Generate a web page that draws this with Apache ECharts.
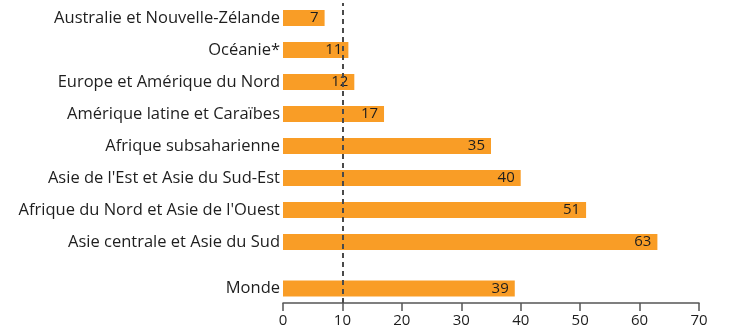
<!DOCTYPE html>
<html>
<head>
<meta charset="utf-8">
<script src="https://cdn.jsdelivr.net/npm/echarts@6/dist/echarts.min.js"></script>
<style>
  html, body { margin: 0; padding: 0; background: #fff; }
  #chart { width: 753px; height: 335px; }
</style>
</head>
<body>
<div id="chart"></div>
<script>
// Regional shares (%), top to bottom
const regions = [
  "Australie et Nouvelle-Zélande",
  "Océanie*",
  "Europe et Amérique du Nord",
  "Amérique latine et Caraïbes",
  "Afrique subsaharienne",
  "Asie de l'Est et Asie du Sud-Est",
  "Afrique du Nord et Asie de l'Ouest",
  "Asie centrale et Asie du Sud"
];
const regionValues = [7, 11, 12, 17, 35, 40, 51, 63];

const worldLabel = ["Monde"];
const worldValues = [39];

const referenceValue = [10];
const axisTicks = [0, 10, 20, 30, 40, 50, 60, 70];

const FONT = "'Open Sans', 'Noto Sans', sans-serif";
const BAR = "#F99D26";
const TEXT = "#1e1e1e";
const GRID_LEFT = 283, GRID_RIGHT = 54;

const valueLabel = {
  show: true,
  position: "insideRight",
  distance: 6,
  color: TEXT,
  fontFamily: FONT,
  fontSize: 15
};

const categoryLabel = { color: TEXT, fontFamily: FONT, fontSize: 16.5, margin: 3 };

const chart = echarts.init(document.getElementById("chart"), null, { renderer: "canvas" });

const xBase = {
  type: "value",
  min: axisTicks[0],
  max: axisTicks[axisTicks.length - 1],
  interval: axisTicks[1] - axisTicks[0],
  splitLine: { show: false }
};

chart.setOption({
  animation: false,
  grid: [
    { left: GRID_LEFT, right: GRID_RIGHT, top: 2, height: 256 },
    { left: GRID_LEFT, right: GRID_RIGHT, top: 274, height: 29 },
    { left: GRID_LEFT, right: GRID_RIGHT, top: 3, height: 300 }
  ],
  xAxis: [
    Object.assign({}, xBase, { gridIndex: 0, show: false }),
    Object.assign({}, xBase, {
      gridIndex: 1,
      position: "bottom",
      axisLine: { show: true, lineStyle: { color: "#555", width: 1.5 } },
      axisTick: { show: true, inside: false, length: 8, lineStyle: { color: "#555", width: 1.5 } },
      axisLabel: { color: TEXT, fontFamily: FONT, fontSize: 15, margin: 10 }
    }),
    Object.assign({}, xBase, { gridIndex: 2, show: false })
  ],
  yAxis: [
    {
      gridIndex: 0,
      type: "category",
      inverse: true,
      data: regions,
      axisLine: { show: false },
      axisTick: { show: false },
      axisLabel: categoryLabel
    },
    {
      gridIndex: 1,
      type: "category",
      inverse: true,
      data: worldLabel,
      axisLine: { show: false },
      axisTick: { show: false },
      axisLabel: categoryLabel
    },
    { gridIndex: 2, type: "value", show: false, min: 0, max: 1 }
  ],
  series: [
    {
      type: "bar",
      xAxisIndex: 0,
      yAxisIndex: 0,
      data: regionValues,
      barWidth: 16,
      itemStyle: { color: BAR },
      label: valueLabel
    },
    {
      type: "bar",
      xAxisIndex: 1,
      yAxisIndex: 1,
      data: worldValues,
      barWidth: 16,
      itemStyle: { color: BAR },
      label: valueLabel
    },
    {
      type: "scatter",
      xAxisIndex: 2,
      yAxisIndex: 2,
      data: [],
      z: 5,
      markLine: {
        silent: true,
        symbol: "none",
        label: { show: false },
        lineStyle: { color: "#4a4a4a", type: [5, 4], width: 2 },
        data: referenceValue.map(v => ({ xAxis: v }))
      }
    }
  ]
});
</script>
</body>
</html>
